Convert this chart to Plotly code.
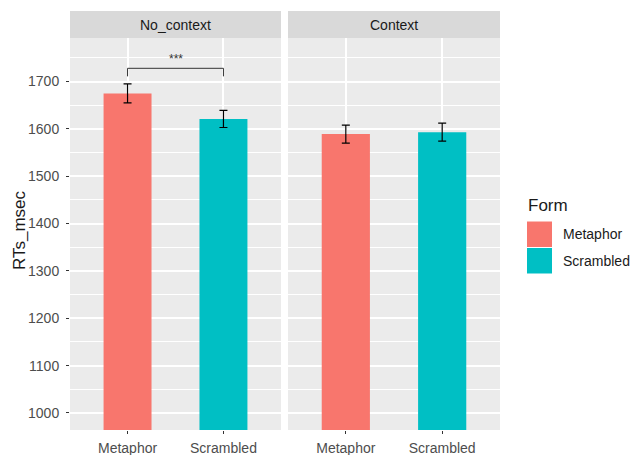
import plotly.graph_objects as go

# ---- data ----
panels = ["No_context", "Context"]
forms = ["Metaphor", "Scrambled"]
rt_means = {"No_context": [1675, 1621], "Context": [1589, 1593]}
rt_se = {"No_context": [20, 18], "Context": [19, 19]}
colors = {"Metaphor": "#F8766D", "Scrambled": "#00BFC4"}
sig_panel = "No_context"
sig_label = "***"
sig_y = 1728
sig_drop = 17
y_range = [964, 1792]
y_ticks = [1000, 1100, 1200, 1300, 1400, 1500, 1600, 1700]

W, H = 635, 455
def px(x): return x / W
def py(y): return 1 - y / H

panel_x = [(70, 281), (288, 500)]
panel_top, panel_bot = 38, 430
strip_top = 11

fig = go.Figure()
font_fam = "Liberation Sans, Arial, sans-serif"

for i, p in enumerate(panels):
    xa = "x" if i == 0 else "x2"
    ya = "y" if i == 0 else "y2"
    for j, f in enumerate(forms):
        fig.add_trace(go.Bar(
            x=[f], y=[rt_means[p][j]], base=0,
            marker=dict(color=colors[f], line=dict(width=0)),
            width=0.5,
            error_y=dict(type="data", array=[rt_se[p][j]], color="black",
                         thickness=1.2, width=4),
            xaxis=xa, yaxis=ya, showlegend=False, hoverinfo="skip"))

axis_common = dict(showgrid=True, gridcolor="white", gridwidth=1.5,
                   ticks="outside", ticklen=3, tickcolor="#333333", tickwidth=1,
                   zeroline=False, showline=False,
                   tickfont=dict(family=font_fam, size=14, color="#4D4D4D"))

layout = dict(
    width=W, height=H, margin=dict(l=0, r=0, t=0, b=0),
    paper_bgcolor="white", plot_bgcolor="#EBEBEB",
    barmode="overlay", showlegend=False,
)
for i, p in enumerate(panels):
    sx = "" if i == 0 else "2"
    x0, x1 = panel_x[i]
    layout["xaxis" + sx] = dict(axis_common, domain=[px(x0), px(x1)],
                               type="category", categoryorder="array",
                               categoryarray=forms, range=[-0.6, 1.6],
                               anchor="y" + sx, ticklabelstandoff=2)
    yd = dict(axis_common, domain=[py(panel_bot), py(panel_top)],
              range=y_range, tickvals=y_ticks, anchor="x" + sx,
              minor=dict(dtick=50, tick0=1000, showgrid=True, gridcolor="white",
                         gridwidth=0.7, ticks=""))
    if i == 1:
        yd["showticklabels"] = False
        yd["ticks"] = ""
    else:
        yd["ticklabelstandoff"] = 4
    layout["yaxis" + sx] = yd
fig.update_layout(**layout)

shapes = []
annotations = []
for i, p in enumerate(panels):
    x0, x1 = panel_x[i]
    shapes.append(dict(type="rect", xref="paper", yref="paper",
                       x0=px(x0), x1=px(x1), y0=py(panel_top), y1=py(strip_top),
                       fillcolor="#D9D9D9", line=dict(width=0), layer="below"))
    annotations.append(dict(xref="paper", yref="paper", x=px((x0 + x1) / 2),
                            y=py((strip_top + panel_top) / 2), text=p,
                            showarrow=False, xanchor="center", yanchor="middle",
                            font=dict(family=font_fam, size=14, color="#1A1A1A")))

# significance bracket
si = panels.index(sig_panel)
sxa = "x" if si == 0 else "x2"
sya = "y" if si == 0 else "y2"
for xa_pt in [0, 1]:
    shapes.append(dict(type="line", xref=sxa, yref=sya, x0=xa_pt, x1=xa_pt,
                       y0=sig_y, y1=sig_y - sig_drop,
                       line=dict(color="#333333", width=1)))
shapes.append(dict(type="line", xref=sxa, yref=sya, x0=0, x1=1,
                   y0=sig_y, y1=sig_y, line=dict(color="#333333", width=1)))
annotations.append(dict(xref=sxa, yref=sya, x=0.5, y=sig_y, text=sig_label,
                        showarrow=False, yanchor="bottom", yshift=0,
                        font=dict(family=font_fam, size=12, color="#333333")))

# axis title
annotations.append(dict(xref="paper", yref="paper", x=px(19), y=py(230),
                        text="RTs_msec", textangle=-90, showarrow=False,
                        xanchor="center", yanchor="middle",
                        font=dict(family=font_fam, size=17, color="#1A1A1A")))

# legend (drawn manually)
annotations.append(dict(xref="paper", yref="paper", x=px(526), y=py(206),
                        text="Form", showarrow=False, xanchor="left",
                        yanchor="middle",
                        font=dict(family=font_fam, size=17, color="#1A1A1A")))
key_top = 221
key_h = 26.5
for k, f in enumerate(forms):
    t = key_top + k * key_h
    shapes.append(dict(type="rect", xref="paper", yref="paper",
                       x0=px(527), x1=px(552), y0=py(t + key_h - 0.5), y1=py(t + 0.5),
                       fillcolor=colors[f], line=dict(width=0)))
    annotations.append(dict(xref="paper", yref="paper", x=px(561),
                            y=py(t + key_h / 2), text=f, showarrow=False,
                            xanchor="left", yanchor="middle",
                            font=dict(family=font_fam, size=14, color="#1A1A1A")))

fig.update_layout(shapes=shapes, annotations=annotations)
fig.write_html("out.html")
